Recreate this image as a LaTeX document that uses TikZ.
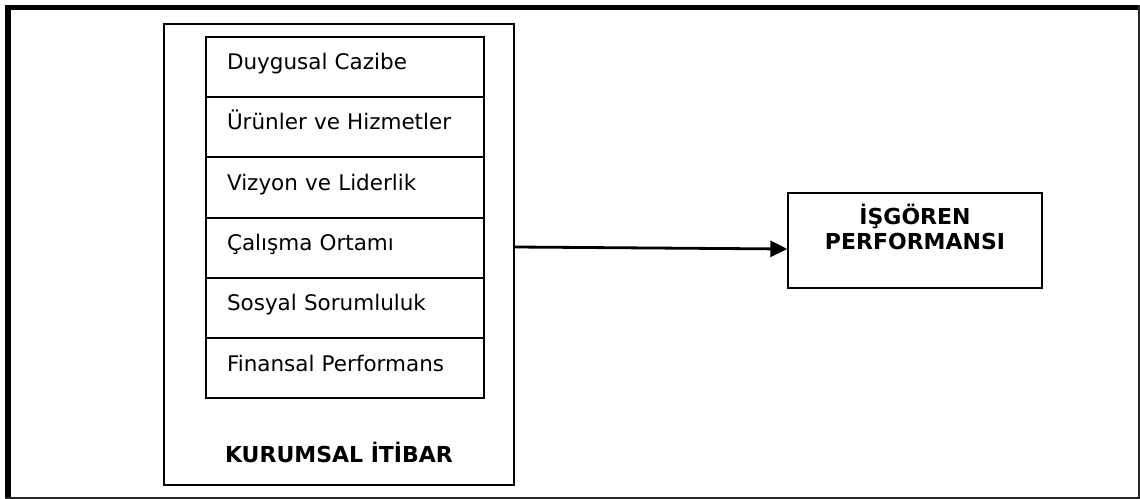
\documentclass[tikz,border=0pt]{standalone}
\usepackage{fontspec}
\setmainfont{DejaVu Sans}
\usetikzlibrary{arrows.meta}
\begin{document}
\begin{tikzpicture}[x=1bp,y=-1bp,
  font=\fontsize{21.5bp}{25bp}\selectfont,
  box/.style={draw=black,line width=1.3bp,inner sep=0pt},
  rowbox/.style={box,minimum width=278bp,minimum height=60bp,text width=236bp,align=left,text height=16bp,text depth=10bp},
  btext/.style={font=\fontsize{22bp}{25bp}\selectfont\bfseries,inner sep=0pt,anchor=base},
  conn/.style={line width=2.8bp,-{Triangle[length=17bp,width=16bp]}}]
\useasboundingbox (0,0) rectangle (1140,499);
% outer frame
\fill[black] (5,5) rectangle (1140,10);
\fill[black] (5,5) rectangle (11,499);
\fill[black!85] (1137.5,5) rectangle (1140,499);
\fill[black!85] (5,497) rectangle (1140,499);
% left container
\node[box,minimum width=350bp,minimum height=461bp] (kur) at (339,254.5) {};
\node[btext] (kurlabel) at (339,462) {KURUMSAL İTİBAR};
% rows
\node[rowbox] (r1) at (345,67) {Duygusal Cazibe};
\node[rowbox] (r2) at (345,127) {Ürünler ve Hizmetler};
\node[rowbox] (r3) at (345,187.5) {Vizyon ve Liderlik};
\node[rowbox] (r4) at (345,248) {Çalışma Ortamı};
\node[rowbox] (r5) at (345,308) {Sosyal Sorumluluk};
\node[rowbox] (r6) at (345,368) {Finansal Performans};
% right box
\node[box,minimum width=254bp,minimum height=95bp] (isg) at (915,240.5) {};
\node[btext] (isg1) at (915,225) {İŞGÖREN};
\node[btext] (isg2) at (915,250) {PERFORMANSI};
% connector
\draw[conn] ([yshift=7.5bp]kur.east) -- ([yshift=-8.5bp]isg.west);
\end{tikzpicture}
\end{document}
